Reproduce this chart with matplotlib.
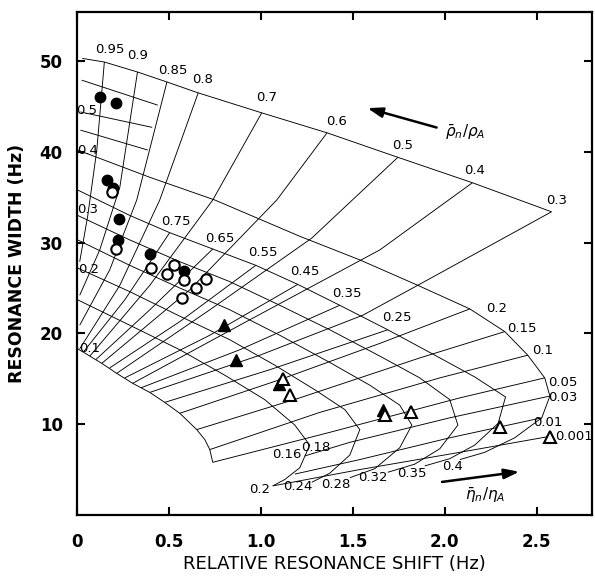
import matplotlib
matplotlib.use("Agg")
import matplotlib.pyplot as plt

# ---- measured points -------------------------------------------------------
filled_circle_x = [0.125, 0.212, 0.163, 0.196, 0.228, 0.223, 0.397, 0.582]
filled_circle_y = [46.0, 45.4, 36.9, 36.0, 32.6, 30.3, 28.7, 26.9]
open_circle_x = [0.19, 0.212, 0.402, 0.489, 0.527, 0.582, 0.647, 0.701, 0.571]
open_circle_y = [35.6, 29.3, 27.2, 26.5, 27.5, 25.9, 25.0, 26.0, 23.9]
filled_tri_x = [0.80, 0.864, 1.10, 1.663]
filled_tri_y = [20.9, 17.1, 14.4, 11.6]
open_tri_x = [1.12, 1.16, 1.674, 1.815, 2.30, 2.57]
open_tri_y = [15.0, 13.2, 11.0, 11.3, 9.7, 8.6]

# ---- nomogram: curves of constant eta_n/eta_A -----------------------------
eta_x = [
    [0.03, 0.15, 0.33, 0.49, 0.66, 1.005, 1.36, 1.745, 2.15, 2.58],
    [0.027, 0.44],
    [0.02, 0.41],
    [0.02, 0.386],
    [0.005, 0.397, 0.75, 1.212, 1.538, 1.853, 2.136, 2.326, 2.451, 2.543, 2.571, 2.527, 2.38, 2.217, 2.082],
    [0.005, 0.288, 0.505, 0.739, 0.973, 1.201, 1.429, 1.69, 1.946, 2.163, 2.33, 2.29, 2.163, 2.027, 1.891],
    [0.005, 0.288, 0.56, 0.832, 1.103, 1.375, 1.647, 1.864, 2.027, 2.071, 1.973, 1.837, 1.69],
    [0.005, 0.288, 0.56, 0.832, 1.103, 1.375, 1.592, 1.755, 1.821, 1.755, 1.62, 1.484],
    [0.005, 0.288, 0.56, 0.832, 1.076, 1.293, 1.457, 1.538, 1.484, 1.375, 1.277],
    [0.005, 0.288, 0.56, 0.804, 1.022, 1.185, 1.266, 1.212, 1.13, 1.065],
    [0.005, 0.071, 0.136, 0.217, 0.304, 0.397, 0.478, 0.56, 0.652, 0.696, 0.723, 0.739],
]
eta_y = [
    [50.3, 49.9, 48.8, 47.7, 46.5, 44.3, 42.1, 39.4, 36.6, 33.4],
    [47.9, 45.15],
    [44.4, 42.7],
    [42.4, 40.2],
    [40.2, 37.2, 34.7, 30.7, 28.1, 25.3, 22.7, 20.2, 17.6, 15.1, 13.1, 10.7, 8.5, 6.9, 6.1],
    [35.8, 33.0, 31.1, 29.3, 27.5, 25.4, 23.1, 20.4, 17.6, 15.2, 13.0, 10.1, 7.7, 6.2, 5.4],
    [33.0, 30.3, 27.9, 25.7, 23.1, 20.4, 17.5, 15.1, 12.7, 9.9, 7.3, 5.6, 4.7],
    [30.3, 27.5, 25.0, 22.6, 19.8, 16.8, 14.3, 12.1, 9.9, 7.4, 5.1, 4.1],
    [27.2, 24.6, 21.9, 19.3, 16.5, 13.8, 11.6, 9.4, 6.6, 4.6, 3.6],
    [23.7, 20.9, 18.2, 15.4, 12.7, 9.9, 7.7, 5.2, 3.9, 3.2],
    [18.3, 17.5, 16.7, 15.6, 14.5, 13.5, 12.4, 11.2, 9.4, 8.3, 7.2, 5.8],
]

# ---- nomogram: curves of constant rho_n/rho_A ------------------------------
rho_x = [
    [0.15, 0.109, 0.06, 0.016],
    [0.33, 0.234, 0.125, 0.016],
    [0.49, 0.326, 0.179, 0.016],
    [0.66, 0.451, 0.234, 0.016],
    [1.005, 0.739, 0.397, 0.071],
    [1.36, 1.087, 0.614, 0.136],
    [1.745, 1.277, 0.723, 0.217],
    [2.15, 1.647, 0.94, 0.304],
    [2.58, 1.853, 1.554, 0.995, 0.397],
    [0.505, 0.261, 0.038],
    [0.739, 0.397, 0.103],
    [0.973, 0.56, 0.179],
    [1.201, 0.723, 0.261],
    [1.429, 0.886, 0.348],
    [1.69, 1.049, 0.478],
    [2.136, 1.647, 1.103, 0.56],
    [2.326, 1.864, 1.212, 0.652],
    [2.451, 1.973, 1.321, 0.723],
    [2.543, 2.082, 1.375, 0.739],
    [2.571, 2.027, 1.484, 1.239],
    [2.527, 2.027, 1.538, 1.185],
    [2.582, 2.082, 1.538, 1.065],
]
rho_y = [
    [49.9, 40.2, 33.0, 27.9],
    [48.8, 36.1, 29.2, 24.2],
    [47.7, 34.7, 27.0, 20.9],
    [46.5, 34.7, 25.3, 18.3],
    [44.3, 34.7, 25.3, 17.5],
    [42.1, 34.7, 24.8, 16.7],
    [39.4, 30.5, 22.6, 15.6],
    [36.6, 29.2, 21.5, 14.5],
    [33.4, 25.3, 22.0, 17.6, 13.5],
    [31.1, 23.7, 18.0],
    [29.3, 22.6, 17.1],
    [27.5, 21.3, 16.2],
    [25.4, 19.8, 15.1],
    [23.1, 18.2, 14.0],
    [20.4, 16.0, 12.4],
    [22.7, 18.9, 14.9, 11.2],
    [20.2, 17.3, 12.9, 9.4],
    [17.6, 15.1, 11.3, 7.2],
    [15.1, 12.9, 9.1, 5.8],
    [13.1, 10.7, 8.0, 6.5],
    [10.7, 8.5, 6.1, 4.5],
    [8.7, 6.9, 5.0, 3.2],
]

# ---- curve labels ----------------------------------------------------------
rho_top_labels = ["0.95", "0.9", "0.85", "0.8", "0.7", "0.6", "0.5", "0.4", "0.3"]
rho_top_lx = [0.18, 0.33, 0.52, 0.685, 1.03, 1.41, 1.77, 2.16, 2.61]
rho_top_ly = [51.3, 50.6, 49.0, 48.0, 46.0, 43.4, 40.7, 37.9, 34.6]

rho_mid_labels = ["0.75", "0.65", "0.55", "0.45", "0.35", "0.25"]
rho_mid_lx = [0.54, 0.78, 1.01, 1.24, 1.47, 1.74]
rho_mid_ly = [32.3, 30.5, 28.9, 26.8, 24.4, 21.7]

rho_right_labels = ["0.2", "0.15", "0.1", "0.05", "0.03", "0.01", "0.001"]
rho_right_lx = [2.28, 2.42, 2.53, 2.64, 2.64, 2.56, 2.70]
rho_right_ly = [22.7, 20.5, 18.1, 14.6, 12.9, 10.2, 8.6]

eta_left_labels = ["0.5", "0.4", "0.3", "0.2", "0.1"]
eta_left_lx = [0.055, 0.06, 0.06, 0.065, 0.07]
eta_left_ly = [44.6, 40.1, 33.7, 27.0, 18.3]

eta_bottom_labels = ["0.16", "0.18", "0.2", "0.24", "0.28", "0.32", "0.35", "0.4"]
eta_bottom_lx = [1.14, 1.30, 0.995, 1.20, 1.41, 1.61, 1.82, 2.04]
eta_bottom_ly = [6.7, 7.4, 2.75, 3.1, 3.4, 4.1, 4.6, 5.3]


def main():
    fig = plt.figure(figsize=(5.95, 5.76), dpi=100)
    ax = fig.add_axes([0.129, 0.106, 0.866, 0.873])
    ax.set_xlim(0, 2.80)
    ax.set_ylim(0, 55.4)

    line_kw = dict(color="black", lw=0.65, solid_capstyle="butt")
    for xs, ys in zip(eta_x, eta_y):
        ax.plot(xs, ys, **line_kw)
    for xs, ys in zip(rho_x, rho_y):
        ax.plot(xs, ys, **line_kw)

    fs = 9.5
    label_sets = [
        (rho_top_labels, rho_top_lx, rho_top_ly),
        (rho_mid_labels, rho_mid_lx, rho_mid_ly),
        (rho_right_labels, rho_right_lx, rho_right_ly),
        (eta_left_labels, eta_left_lx, eta_left_ly),
        (eta_bottom_labels, eta_bottom_lx, eta_bottom_ly),
    ]
    for labels, lxs, lys in label_sets:
        for lab, x, y in zip(labels, lxs, lys):
            ax.text(x, y, lab, fontsize=fs, ha="center", va="center")

    # direction arrows
    arrow_kw = dict(arrowstyle="-|>,head_length=0.9,head_width=0.3", color="black", lw=1.8)
    ax.annotate("", xy=(1.565, 44.9), xytext=(1.97, 42.6), arrowprops=arrow_kw)
    ax.annotate("", xy=(2.42, 4.8), xytext=(1.97, 3.6), arrowprops=arrow_kw)
    ax.text(2.11, 42.1, r"$\bar{\rho}_n/\rho_A$", fontsize=11, ha="center", va="center")
    ax.text(2.22, 2.2, r"$\bar{\eta}_n/\eta_A$", fontsize=11, ha="center", va="center")

    ms = 7.5
    ax.plot(filled_circle_x, filled_circle_y, "o", color="black", ms=ms, zorder=5)
    ax.plot(open_circle_x, open_circle_y, "o", mfc="white", mec="black", mew=1.5, ms=ms, zorder=5)
    ax.plot(filled_tri_x, filled_tri_y, "^", color="black", ms=ms + 1.5, zorder=5)
    ax.plot(open_tri_x, open_tri_y, "^", mfc="white", mec="black", mew=1.5, ms=ms + 1.5, zorder=5)

    ax.set_xticks([0, 0.5, 1.0, 1.5, 2.0, 2.5])
    ax.set_xticklabels(["0", "0.5", "1.0", "1.5", "2.0", "2.5"])
    ax.set_yticks([10, 20, 30, 40, 50])
    ax.tick_params(direction="in", length=6, width=1.5, labelsize=12,
                   right=True, top=True)
    ax.tick_params(axis="x", pad=13)
    ax.tick_params(axis="y", pad=10)
    for lab in ax.get_xticklabels() + ax.get_yticklabels():
        lab.set_fontweight("bold")
    for sp in ax.spines.values():
        sp.set_linewidth(1.6)
    ax.set_xlabel("RELATIVE RESONANCE SHIFT (Hz)", fontsize=13, fontweight="medium", labelpad=3)
    ax.set_ylabel("RESONANCE WIDTH (Hz)", fontsize=12.5, fontweight="bold", labelpad=10)

    fig.savefig("out.png", dpi=100)


if __name__ == "__main__":
    main()
